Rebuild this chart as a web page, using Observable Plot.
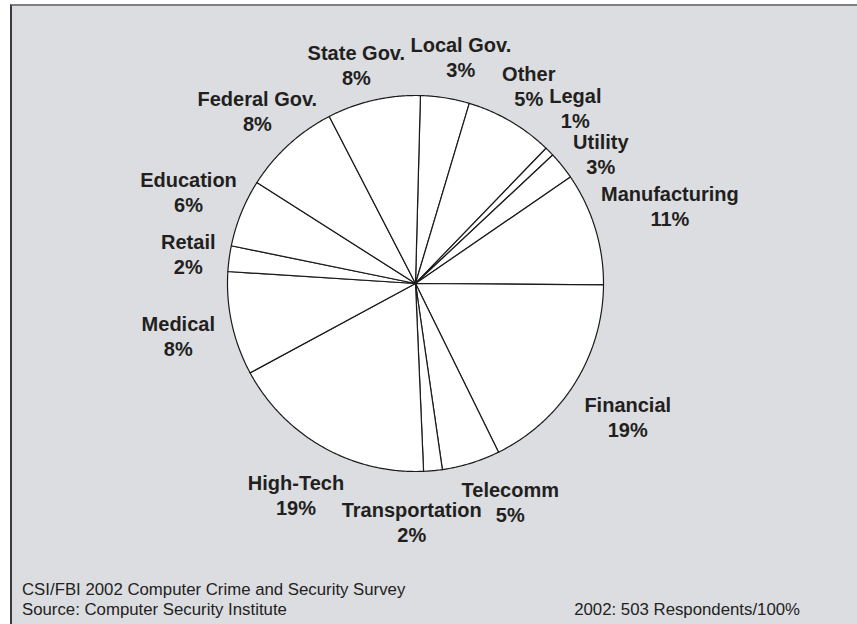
<!DOCTYPE html>
<html><head><meta charset="utf-8">
<script src="https://cdn.jsdelivr.net/npm/d3@7"></script>
<script src="https://cdn.jsdelivr.net/npm/@observablehq/plot@0.6"></script>
<style>
html,body{margin:0;padding:0;background:#fff;}
#wrap{position:relative;width:857px;height:624px;overflow:hidden;font-family:"Liberation Sans",Arial,sans-serif;}
#frame{position:absolute;left:10px;top:4px;width:860px;height:640px;background:#dcdde0;border-left:2px solid #3a3a3a;border-top:2px solid #808080;}
#chart{position:absolute;left:0;top:0;}
.foot{position:absolute;font-size:16.8px;line-height:20px;color:#222;white-space:nowrap;}
</style></head><body>
<div id="wrap"><div id="frame"></div><div id="chart"></div>
<div class="foot" style="left:22px;top:580px">CSI/FBI 2002 Computer Crime and Security Survey</div>
<div class="foot" style="left:22px;top:600px">Source: Computer Security Institute</div>
<div class="foot" style="right:57px;top:600px">2002: 503 Respondents/100%</div>
</div>
<script>
// Data (clockwise from top)
const categories = ["Local Gov.","Other","Legal","Utility","Manufacturing","Financial","Telecomm","Transportation","High-Tech","Medical","Retail","Education","Federal Gov.","State Gov."];
const shares = [4.2,7.6,0.8,2.4,9.7,17.6,5.0,1.6,17.8,8.9,2.2,5.8,8.4,8.0];
const percentLabels = ["3%","5%","1%","3%","11%","19%","5%","2%","19%","8%","2%","6%","8%","8%"];

const startDeg = 1.5;
const R = 188, pad = 15, gap = 4, fontSize = 20, lh = 25, bh = 8;
const ctx = document.createElement("canvas").getContext("2d");
ctx.font = `bold ${fontSize}px "Liberation Sans"`;

const total = d3.sum(shares);
let acc = 0;
const slices = categories.map((c, i) => {
  const a0 = startDeg + acc / total * 360; acc += shares[i];
  const a1 = startDeg + acc / total * 360;
  return {c, a0, a1, mid: (a0 + a1) / 2, share: shares[i], pct: percentLabels[i]};
});

const pts = slices.flatMap(s => {
  const n = Math.max(2, Math.ceil((s.a1 - s.a0) / 0.5));
  const arr = [{c: s.c, x: 0, y: 0}];
  for (let k = 0; k <= n; k++) {
    const a = (s.a0 + (s.a1 - s.a0) * k / n) * Math.PI / 180;
    arr.push({c: s.c, x: Math.sin(a), y: Math.cos(a)});
  }
  return arr;
});

// label layout: each label = two line boxes, pushed just clear of the circle
const labels = slices.map(s => ({...s,
  lines: [{w: ctx.measureText(s.c).width, off: lh / 2}, {w: ctx.measureText(s.pct).width, off: -lh / 2}],
  ang: s.mid, extra: 0}));
function boxesAt(l, px, py) {
  return l.lines.map(ln => ({x0: px - ln.w / 2, x1: px + ln.w / 2, y0: py + ln.off - bh, y1: py + ln.off + bh}));
}
function minDist(bs) {
  return Math.min(...bs.map(b => {
    const dx = Math.max(b.x0, 0, -b.x1), dy = Math.max(b.y0, 0, -b.y1);
    return Math.hypot(dx, dy);
  }));
}
function place(l) {
  const t = l.ang * Math.PI / 180, ux = Math.sin(t), uy = Math.cos(t);
  let lo = 0, hi = R + 300;
  for (let k = 0; k < 30; k++) {
    const m = (lo + hi) / 2;
    if (minDist(boxesAt(l, m * ux, m * uy)) >= R + pad) hi = m; else lo = m;
  }
  const r = hi + l.extra;
  l.px = r * ux; l.py = r * uy; l.bs = boxesAt(l, l.px, l.py);
}
function collide(A, B) {
  return A.bs.some(a => B.bs.some(b =>
    a.x0 < b.x1 + gap && b.x0 < a.x1 + gap && a.y0 < b.y1 + gap && b.y0 < a.y1 + gap));
}
for (let it = 0; it < 800; it++) {
  labels.forEach(place);
  let moved = false;
  for (let i = 0; i < labels.length; i++) for (let j = i + 1; j < labels.length; j++) {
    const A = labels[i], B = labels[j];
    if (collide(A, B)) {
      moved = true;
      const diff = ((B.ang - A.ang + 540) % 360) - 180;
      const s = diff >= 0 ? 1 : -1;
      A.ang -= 0.25 * s; B.ang += 0.25 * s;
      (A.share < B.share ? A : B).extra += 0.6;
    }
  }
  if (!moved) break;
}
labels.forEach(place);
const labelData = labels.map(l => ({x: l.px / R, y: l.py / R, text: l.c + "\n" + l.pct}));

const chart = Plot.plot({
  width: 857, height: 572,
  marginLeft: 227, marginRight: 254, marginTop: 95, marginBottom: 101,
  x: {domain: [-1, 1], axis: null},
  y: {domain: [-1, 1], axis: null},
  style: {background: "transparent", overflow: "visible"},
  marks: [
    Plot.line(pts, {x: "x", y: "y", z: "c", curve: "linear-closed", fill: "white", stroke: "#1a1a1a", strokeWidth: 1.2, strokeLinejoin: "round"}),
    Plot.text(labelData, {x: "x", y: "y", text: "text", fontFamily: "Liberation Sans, Arial, sans-serif", fontWeight: "bold", fontSize: fontSize, fill: "#231f20", lineHeight: lh / fontSize, lineAnchor: "middle", textAnchor: "middle"})
  ]
});
document.getElementById("chart").appendChild(chart);
</script>
</body></html>
